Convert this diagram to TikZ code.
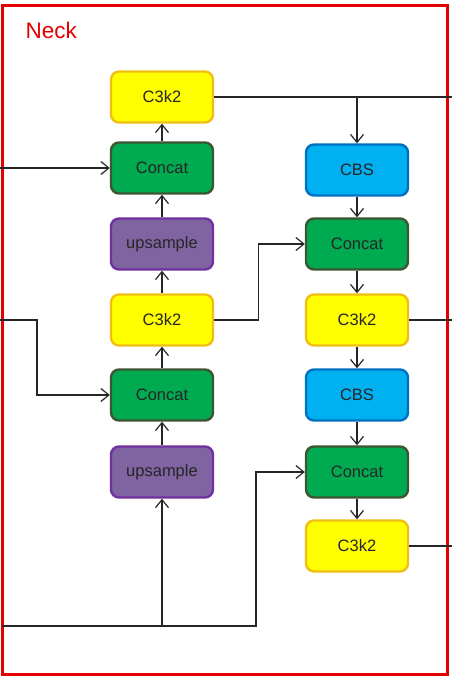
\documentclass[tikz,border=0pt]{standalone}
\usepackage{fontspec}
\setmainfont{Liberation Sans}
\usetikzlibrary{arrows.meta}

\definecolor{ylwfill}{RGB}{255,255,0}
\definecolor{ylwline}{RGB}{240,190,20}
\definecolor{grnfill}{RGB}{0,170,80}
\definecolor{grnline}{RGB}{60,85,50}
\definecolor{purfill}{RGB}{128,100,162}
\definecolor{purline}{RGB}{112,48,160}
\definecolor{blufill}{RGB}{0,176,240}
\definecolor{bluline}{RGB}{0,112,192}

\begin{document}
\begin{tikzpicture}[x=1pt, y=-1pt,
    blk/.style={draw, rounded corners=8pt, line width=2.4pt, minimum width=102pt, minimum height=51pt,
                font=\fontsize{16.5}{19}\selectfont, text=black!85},
    c3k2/.style={blk, fill=ylwfill, draw=ylwline},
    concat/.style={blk, fill=grnfill, draw=grnline},
    upsmp/.style={blk, fill=purfill, draw=purline},
    cbs/.style={blk, fill=blufill, draw=bluline},
    link/.style={line width=1.2pt, black!85},
    arr/.style={link, -{Straight Barb[length=8pt, width=13pt]}}]
    \useasboundingbox (0,0) rectangle (452,680);

    %Neck frame
    \draw[line width=3pt, red!90!black] (2.5,5) rectangle (447,674.5);
    \node[anchor=base west, text=red!90!black, font=\fontsize{22.5}{26}\selectfont] (neck) at (22,38) {Neck};

    %left column (upward)
    \node[c3k2]   (lc1)   at (162,97)  {C3k2};
    \node[concat] (lcat1) at (162,168) {Concat};
    \node[upsmp]  (lup1)  at (162,244) {upsample};
    \node[c3k2]   (lc2)   at (162,320) {C3k2};
    \node[concat] (lcat2) at (162,395) {Concat};
    \node[upsmp]  (lup2)  at (162,472) {upsample};

    %right column (downward)
    \node[cbs]    (rcbs1) at (357,170) {CBS};
    \node[concat] (rcat1) at (357,244) {Concat};
    \node[c3k2]   (rc1)   at (357,320) {C3k2};
    \node[cbs]    (rcbs2) at (357,395) {CBS};
    \node[concat] (rcat2) at (357,472) {Concat};
    \node[c3k2]   (rc2)   at (357,546) {C3k2};

    %inputs and outputs at the frame
    \coordinate (in1)  at (0,168);
    \coordinate (in2)  at (0,320);
    \coordinate (in3)  at (2,626);
    \coordinate (out1) at (452,97);
    \coordinate (out2) at (452,320);
    \coordinate (out3) at (452,546);

    %chains
    \foreach \a/\b in {lup2/lcat2, lcat2/lc2, lc2/lup1, lup1/lcat1, lcat1/lc1} {
        \draw[arr] (\a.north) -- (\b.south);
    }
    \foreach \a/\b in {rcbs1/rcat1, rcat1/rc1, rc1/rcbs2, rcbs2/rcat2, rcat2/rc2} {
        \draw[arr] (\a.south) -- (\b.north);
    }

    %cross links
    \draw[link] (lc1.east) -- (out1);
    \draw[arr] (lc1.east -| rcbs1.north) -- (rcbs1.north);
    \draw[arr] (in1) -- (lcat1.west);
    \draw[arr] (in2) -- ++(37,0) |- (lcat2.west);
    \draw[arr] (lc2.east) -- ++(44,0) |- (rcat1.west);
    \draw[arr] (in3) -- ++(254,0) |- (rcat2.west);
    \draw[arr] (lup2.south |- in3) -- (lup2.south);
    \draw[link] (rc1.east) -- (out2);
    \draw[link] (rc2.east) -- (out3);

\end{tikzpicture}
\end{document}
